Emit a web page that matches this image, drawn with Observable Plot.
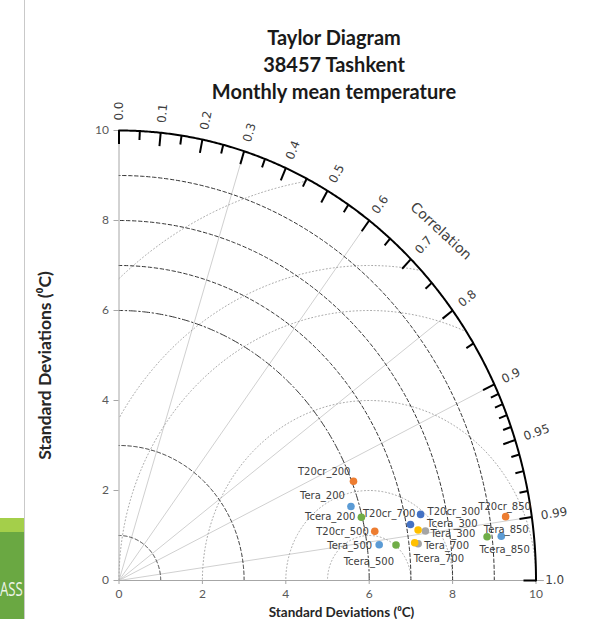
<!DOCTYPE html>
<html>
<head>
<meta charset="utf-8">
<script src="https://cdn.jsdelivr.net/npm/d3@7"></script>
<script src="https://cdn.jsdelivr.net/npm/@observablehq/plot@0.6"></script>
<style>
  body { margin: 0; background: #fff; }
  #page { position: relative; width: 606px; height: 619px; overflow: hidden; background: #fff; }
  #title { height: 100px; box-sizing: border-box; padding: 24px 0 0 62px; text-align: center;
           font: 700 20px/27px Lato, "Open Sans", sans-serif; color: #1a1a1a; }
  #edge { position: absolute; left: 24px; top: 0; width: 1px; height: 619px; background: #c9c9c9; }
  #slide { position: absolute; left: 0; top: 518px; width: 24px; height: 101px; overflow: hidden; background: #6aa842; }
  #slide .band { height: 14px; background: #a4cf4a; }
  #slide .word { position: absolute; left: 0; top: 61px; font: 400 20px/1 "Open Sans", sans-serif; color: #eef4e8;
                 white-space: nowrap; transform: scaleX(0.66); transform-origin: 0 0; }
  #chart svg { display: block; overflow: visible; }
</style>
</head>
<body>
<div id="page">
  <div id="slide"><div class="band"></div><div class="word">ASS</div></div>
  <div id="edge"></div>
  <div id="title">Taylor Diagram<br>38457 Tashkent<br>Monthly mean temperature</div>
  <div id="chart"></div>
</div>
<script>
// ---- data: standard deviation (°C) and correlation of each dataset/level ----
const names = [
  "T20cr_200", "Tera_200", "Tcera_200",
  "T20cr_300", "Tera_300", "Tcera_300",
  "T20cr_500", "Tera_500", "Tcera_500",
  "T20cr_700", "Tera_700", "Tcera_700",
  "T20cr_850", "Tera_850", "Tcera_850"
];
const stdDev = [
  6.04, 5.80, 5.98,
  7.38, 7.43, 7.26,
  6.23, 6.29, 6.69,
  7.10, 7.22, 7.14,
  9.38, 9.22, 8.88
];
const correlation = [
  0.931, 0.959, 0.972,
  0.980, 0.989, 0.988,
  0.9845, 0.992, 0.993,
  0.9845, 0.9936, 0.9931,
  0.9885, 0.9943, 0.994
];

// ---- diagram furniture ----
const refStd = 6;                          // observed standard deviation
const stdArcs = [1, 3, 7, 8, 9];           // dashed std-dev circles
const rmsArcs = [1, 2, 4, 6, 7, 9];        // dotted centred-RMS circles around the reference
const corrRays = [0.3, 0.6, 0.8, 0.9, 0.99];
const corrMajor = [0, 0.1, 0.2, 0.3, 0.4, 0.5, 0.6, 0.7, 0.8, 0.9, 0.95, 0.99, 1];
const corrMinor = [0.05, 0.15, 0.25, 0.35, 0.45, 0.55, 0.65, 0.75, 0.85,
                   0.91, 0.92, 0.93, 0.94, 0.96, 0.97, 0.98];
const corrLabels = ["0.0", "0.1", "0.2", "0.3", "0.4", "0.5", "0.6", "0.7", "0.8", "0.9", "0.95", "0.99", "1.0"];
const axisTicks = [0, 2, 4, 6, 8, 10];
const rMax = 10;

// ---- styling ----
const colorOf = {
  T20cr_200: "#ED7D31", Tera_200: "#5B9BD5", Tcera_200: "#70AD47",
  T20cr_500: "#ED7D31", Tera_500: "#5B9BD5", Tcera_500: "#70AD47",
  T20cr_850: "#ED7D31", Tera_850: "#5B9BD5", Tcera_850: "#70AD47",
  T20cr_300: "#4472C4", Tera_300: "#A5A5A5", Tcera_300: "#FFC000",
  T20cr_700: "#4472C4", Tera_700: "#A5A5A5", Tcera_700: "#FFC000"
};
// label placement: [anchor, dx, dy] in pixels from the marker
const placeOf = {
  T20cr_200: ["end", -3, -9],   Tera_200: ["end", -6, -11],  Tcera_200: ["end", -6, 0],
  T20cr_300: ["start", 7, -3],  Tera_300: ["start", 5, 3],   Tcera_300: ["start", 9, -6],
  T20cr_500: ["end", -6, 0],    Tera_500: ["end", -7, 1.5],  Tcera_500: ["end", -2, 17],
  T20cr_700: ["end", 5, -11],   Tera_700: ["start", 6, 2],   Tcera_700: ["start", -1, 16],
  T20cr_850: ["middle", -1, -9.5], Tera_850: ["middle", 5, -6.5], Tcera_850: ["middle", 17.5, 13]
};

const W = 606, H = 519;
const M = {left: 118.5, right: 70.5, top: 30, bottom: 39};
const kx = (W - M.left - M.right) / rMax;
const ky = (H - M.top - M.bottom) / rMax;
const deg = a => a * 180 / Math.PI;
const screenAngle = c => Math.atan2(ky * Math.sqrt(1 - c * c), kx * c);
const polar = (r, c) => ({x: r * c, y: r * Math.sqrt(Math.max(0, 1 - c * c))});

// circle of radius r centred at (cx, 0), kept inside the quadrant and the outer arc
function arc(cx, r, n = 240) {
  let t0 = 0, t1 = Math.PI / 2;
  if (cx > 0) {
    t0 = Math.acos(Math.max(-1, Math.min(1, (rMax * rMax - cx * cx - r * r) / (2 * cx * r))));
    t1 = Math.acos(Math.max(-1, -cx / r));
  }
  const pts = [];
  for (let i = 0; i <= n; ++i) {
    const t = t0 + (t1 - t0) * i / n;
    pts.push({x: cx + r * Math.cos(t), y: r * Math.sin(t), r});
  }
  return pts;
}

const points = names.map((name, i) => ({name, ...polar(stdDev[i], correlation[i])}));
const stdLines = stdArcs.flatMap(r => arc(0, r));
const refLine = arc(0, refStd);
const rmsLines = rmsArcs.flatMap(r => arc(refStd, r));
const outer = arc(0, rMax, 400);
const rays = corrRays.map(c => ({c, ...polar(rMax, c)}));

const tickSeg = (list, len) => list.map(c => {
  const a = polar(rMax, c), b = polar(rMax - len, c);
  return {x1: a.x, y1: a.y, x2: b.x, y2: b.y};
});

const labelFont = "DejaVu Sans, Verdana, sans-serif";
const axisTitle = "Standard Deviations (\u2070C)";

const chart = Plot.plot({
  width: W, height: H,
  marginLeft: M.left, marginRight: M.right, marginTop: M.top, marginBottom: M.bottom,
  x: {domain: [0, rMax]},
  y: {domain: [0, rMax]},
  style: {fontFamily: "Lato, sans-serif", fontSize: "12px", color: "#595959", background: "transparent", overflow: "visible"},
  marks: [
    // correlation rays
    Plot.link(rays, {x1: 0, y1: 0, x2: "x", y2: "y", stroke: "#d0d0d0", strokeWidth: 1}),
    // centred RMS difference circles
    Plot.line(rmsLines, {x: "x", y: "y", z: "r", stroke: "#a8a8a8", strokeWidth: 1, strokeDasharray: "1,2.5"}),
    // standard-deviation circles
    Plot.line(stdLines, {x: "x", y: "y", z: "r", stroke: "#333", strokeWidth: 1, strokeDasharray: "3.5,2.5"}),
    Plot.line(refLine, {x: "x", y: "y", stroke: "#333", strokeWidth: 1, strokeDasharray: "7,2.5,1.5,2.5"}),
    // axes
    Plot.ruleY([0], {x1: 0, x2: 10.2, stroke: "#a6a6a6"}),
    Plot.ruleX([0], {y1: 0, y2: rMax, stroke: "#a6a6a6"}),
    Plot.axisX({ticks: axisTicks, tickSize: 4, tickPadding: 5, label: null, stroke: "#a6a6a6", fill: "#595959", fontSize: 12}),
    Plot.axisY({ticks: axisTicks, tickSize: 5, tickPadding: 5, label: null, stroke: "#a6a6a6", fill: "#595959", fontSize: 12}),
    // outer correlation arc with ticks
    Plot.line(outer, {x: "x", y: "y", stroke: "#000", strokeWidth: 2}),
    Plot.link(tickSeg(corrMajor, 0.3), {x1: "x1", y1: "y1", x2: "x2", y2: "y2", stroke: "#000", strokeWidth: 2}),
    Plot.link(tickSeg(corrMinor, 0.2), {x1: "x1", y1: "y1", x2: "x2", y2: "y2", stroke: "#000", strokeWidth: 2}),
    Plot.text(corrMajor, {
      x: c => polar(rMax + 0.22, c).x, y: c => polar(rMax + 0.22, c).y,
      text: (c, i) => corrLabels[i], rotate: c => -deg(screenAngle(c)),
      textAnchor: "start", lineAnchor: "middle", fontSize: 12, fill: "#404040", fontFamily: labelFont
    }),
    Plot.text(["Correlation"], {
      x: () => polar(10.95, 0.705).x, y: () => polar(10.95, 0.705).y,
      rotate: 90 - deg(screenAngle(0.705)),
      fontSize: 14, fill: "#404040", fontFamily: labelFont
    }),
    // axis titles
    Plot.text([axisTitle], {frameAnchor: "bottom", textAnchor: "middle", lineAnchor: "middle",
      dx: 14, dy: 32, fontSize: 13.5, fontWeight: "bold", fill: "#262626"}),
    Plot.text([axisTitle], {frameAnchor: "left", textAnchor: "middle", lineAnchor: "middle", rotate: -90,
      dx: -73.5, dy: 10, fontSize: 17.5, fontWeight: "bold", fill: "#262626"}),
    // datasets
    Plot.dot(points, {x: "x", y: "y", r: 3.8, fill: d => colorOf[d.name], stroke: "none"}),
    ...points.map(p => {
      const [anchor, dx, dy] = placeOf[p.name];
      return Plot.text([p], {x: "x", y: "y", text: "name", textAnchor: anchor, lineAnchor: "middle",
        dx, dy, fontSize: 10, fill: "#404040", fontFamily: labelFont});
    })
  ]
});
document.getElementById("chart").appendChild(chart);
</script>
</body>
</html>
